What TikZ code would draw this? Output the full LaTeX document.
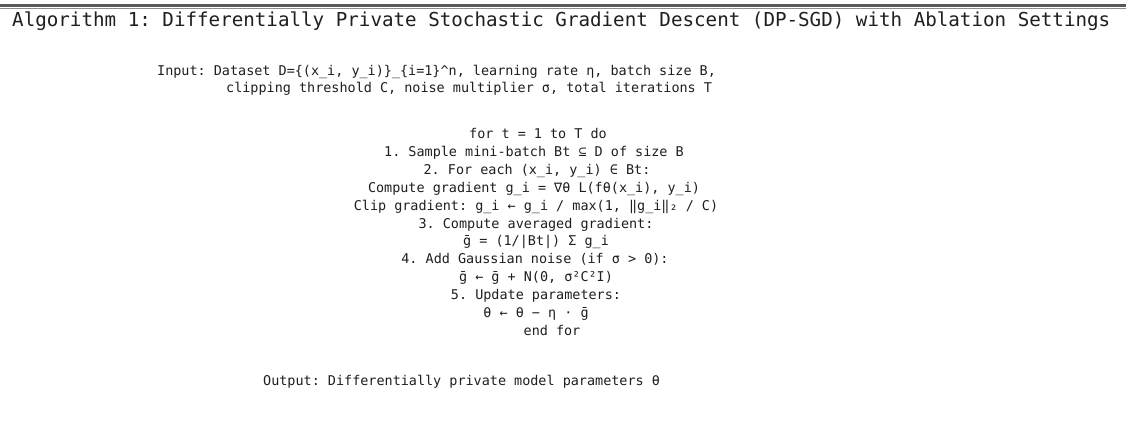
\documentclass[tikz,border=0pt]{standalone}
\usepackage{fontspec}
\setmonofont{DejaVu Sans Mono}
\begin{document}
\begin{tikzpicture}[x=1pt,y=-1pt,
  body/.style={inner sep=0pt,font=\ttfamily\fontsize{13.45}{16}\selectfont,text=black!88},
  ttl/.style={inner sep=0pt,font=\ttfamily\fontsize{19.2}{22}\selectfont,text=black!88,anchor=base west}]
\useasboundingbox[fill=white] (0,0) rectangle (1126,427);
\coordinate (rl) at (0,5.5); \coordinate (rr) at (1126,5.5);
\coordinate (sl) at (0,8.8); \coordinate (sr) at (1126,8.8);
\draw[line width=2.6pt,black!65] (rl) -- (rr);
\draw[line width=0.8pt,black!45] (sl) -- (sr);
\node[ttl] (title) at (12,27) {Algorithm 1: Differentially Private Stochastic Gradient Descent (DP-SGD) with Ablation Settings};
\node[body,anchor=base west] (in1) at (157,76) {Input: Dataset D=\{(x\_i, y\_i)\}\_\{i=1\}\^{}n, learning rate η, batch size B,};
\node[body,anchor=base west] (in2) at (226,93) {clipping threshold C, noise multiplier σ, total iterations T};
\node[body,anchor=base] (l1) at (538,139) {for t = 1 to T do};
\node[body,anchor=base] (l2) at (534,157) {1. Sample mini-batch Bt ⊆ D of size B};
\node[body,anchor=base] (l3) at (537,175) {2. For each (x\_i, y\_i) ∈ Bt:};
\node[body,anchor=base] (l4) at (534,193) {Compute gradient g\_i = ∇θ L(fθ(x\_i), y\_i)};
\node[body,anchor=base] (l5) at (536,211) {Clip gradient: g\_i ← g\_i / max(1, ‖g\_i‖₂ / C)};
\node[body,anchor=base] (l6) at (536,229) {3. Compute averaged gradient:};
\node[body,anchor=base] (l7) at (536,246) {ḡ = (1/|Bt|) Σ g\_i};
\node[body,anchor=base] (l8) at (535,264) {4. Add Gaussian noise (if σ > 0):};
\node[body,anchor=base] (l9) at (536,282) {ḡ ← ḡ + N(0, σ²C²I)};
\node[body,anchor=base] (l10) at (536,300) {5. Update parameters:};
\node[body,anchor=base] (l11) at (536,317) {θ ← θ − η · ḡ};
\node[body,anchor=base] (l12) at (552,335) {end for};
\node[body,anchor=base west] (out) at (263,385) {Output: Differentially private model parameters θ};
\end{tikzpicture}
\end{document}
